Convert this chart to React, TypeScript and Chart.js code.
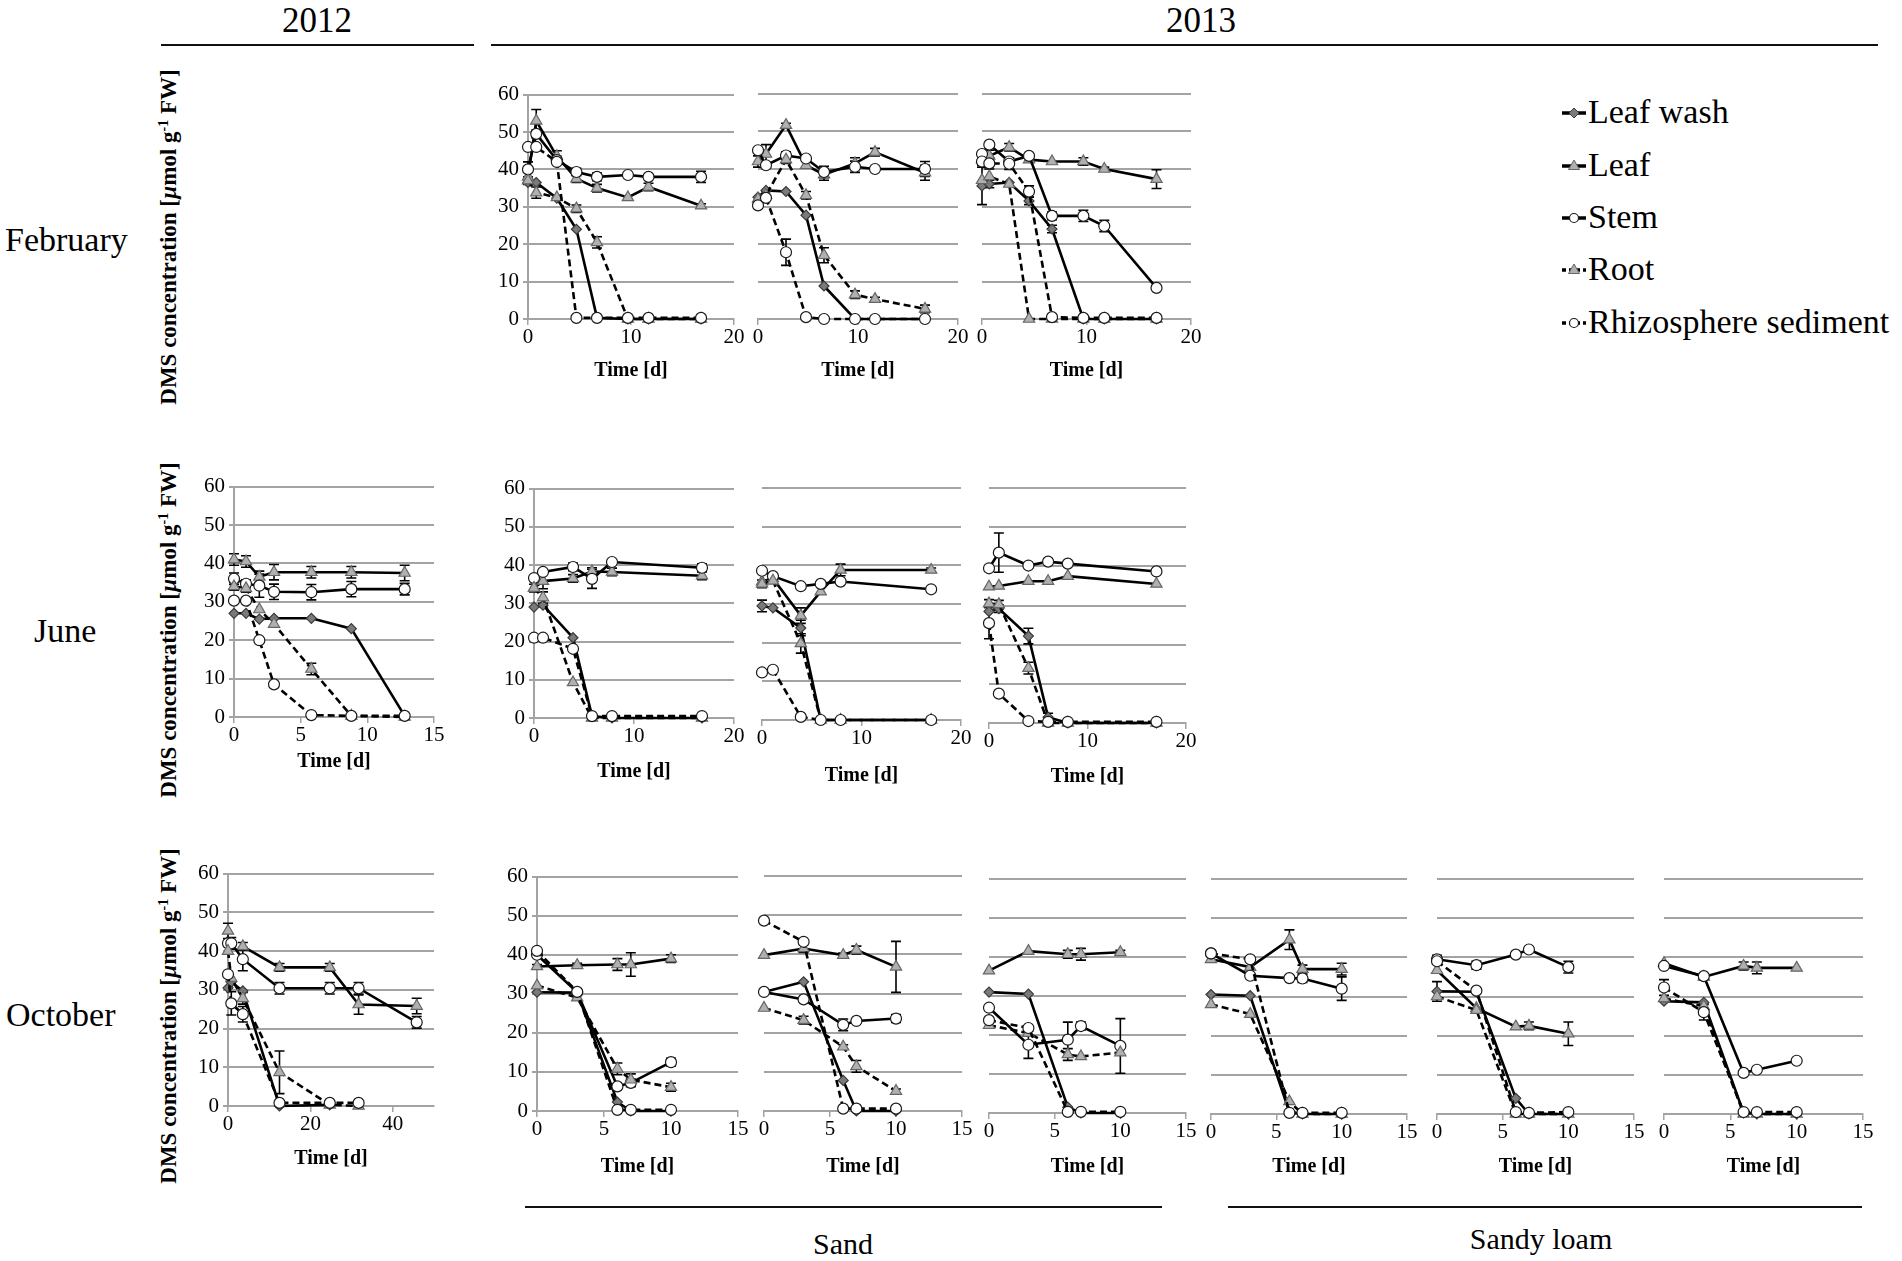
import { useEffect, useRef } from "react"
import { Chart, registerables } from "chart.js"

Chart.register(...registerables)

const SERIF = "'Liberation Serif', 'Times New Roman', serif"
const GRID = "#a3a3a3"

// series order in every panel: leaf wash, leaf, stem, root, rhizosphere sediment
const seriesNames = ["Leaf wash", "Leaf", "Stem", "Root", "Rhizosphere sediment"]

// ---- February 2013 ----
const feb13aDays = [0, 0.8, 2.8, 4.7, 6.7, 9.7, 11.7, 16.8]
const feb13aLeafWash = [36.5, 36.5, 32.3, 24, 0.3, 0, 0, 0]
const feb13aLeaf = [38, 53, 43.5, 37.5, 35, 32.5, 35.3, 30.3]
const feb13aStem = [40, 49.5, 42.5, 39.3, 38, 38.5, 38, 38]
const feb13aRoot = [37, 33.8, 32.5, 29.5, 20.5, 0, 0, 0]
const feb13aRhizo = [46, 46, 42, 0.3, 0.3, 0.3, 0.3, 0.3]
const feb13aLeafErr = [1.5, 3, 1.5, 1, 1, 0, 1, 0.5]
const feb13aStemErr = [2, 1, 1, 1, 1, 0, 0, 1.5]
const feb13aRootErr = [1, 1.5, 0, 1, 1.5, 0, 0, 0]

const feb13bDays = [0, 0.8, 2.8, 4.8, 6.6, 9.7, 11.7, 16.7]
const feb13bLeafWash = [32.5, 34.3, 34, 27.7, 8.8, 0, 0, 0]
const feb13bLeaf = [42, 44, 51.7, 41, 38.5, 41.5, 44.5, 39]
const feb13bStem = [45, 41, 43.6, 42.8, 39.2, 40.6, 40, 40]
const feb13bRoot = [32, 33, 42.5, 33, 17, 6.5, 5.3, 2.7]
const feb13bRhizo = [30.3, 32.3, 17.8, 0.5, 0, 0, 0, 0]
const feb13bLeafErr = [1.5, 2.5, 0.5, 0, 1.5, 1.5, 1, 2]
const feb13bStemErr = [0, 0, 1, 0, 1.5, 1.5, 0, 2]
const feb13bRootErr = [0, 1, 1, 1, 2, 1, 0.5, 1]
const feb13bRhizoErr = [0, 0, 3.5, 0, 0, 0, 0, 0]

const feb13cDays = [0, 0.7, 2.6, 4.5, 6.7, 9.7, 11.7, 16.7]
const feb13cLeafWash = [35.5, 36, 36.4, 31.5, 24, 0, 0, 0]
const feb13cLeaf = [42.5, 43.5, 45.8, 42.5, 42, 42, 40, 37.3]
const feb13cStem = [44, 46.5, 42, 43.5, 27.5, 27.5, 24.8, 8.3]
const feb13cRoot = [37, 38, 36, 0, 0, 0, 0, 0]
const feb13cRhizo = [42, 41.5, 41.4, 34, 0.5, 0.3, 0.3, 0.3]
const feb13cLeafWashErr = [5, 1, 0, 1, 1, 0, 0, 0]
const feb13cLeafErr = [1.5, 1.5, 1, 0, 0, 1, 0.5, 2.5]
const feb13cStemErr = [0, 0, 1, 0, 1, 1.5, 1.5, 0.5]
const feb13cRhizoErr = [0, 1.5, 1.5, 1.5, 0, 0, 0, 0]

// ---- June 2012 / 2013 ----
const jun12Days = [0, 0.9, 1.9, 3, 5.8, 8.8, 12.8]
const jun12LeafWash = [27, 27, 25.5, 25.7, 25.7, 23, 0.3]
const jun12Leaf = [41, 40.5, 36.5, 37.7, 37.7, 37.7, 37.5]
const jun12Stem = [36, 34.7, 34.2, 32.6, 32.5, 33.3, 33.3]
const jun12Root = [34, 33.5, 28, 24.2, 12.5, 0.3, 0]
const jun12Rhizo = [30.3, 30.3, 20, 8.5, 0.5, 0.3, 0.3]
const jun12LeafErr = [1.5, 1.5, 1.5, 2, 1.5, 1.5, 2]
const jun12StemErr = [1.5, 1, 3, 2, 2, 2, 1.5]
const jun12RootErr = [1, 1, 0, 0, 1.5, 0, 0]

const jun13aDays = [0, 0.9, 3.9, 5.8, 7.8, 16.8]
const jun13aLeafWash = [29, 29.5, 21, 0.5, 0, 0]
const jun13aLeaf = [34, 35.8, 36.5, 38.3, 38.2, 37.2]
const jun13aStem = [36.6, 38.2, 39.5, 36.4, 40.8, 39.3]
const jun13aRoot = [34, 31.5, 9.3, 0, 0, 0]
const jun13aRhizo = [21, 21, 18.1, 0.5, 0.5, 0.5]
const jun13aLeafErr = [1, 2, 1, 1, 1, 1]
const jun13aStemErr = [0, 0, 1, 2.5, 0, 1]
const jun13aRootErr = [0, 1.5, 0, 0, 0, 0]

const jun13bDays = [0, 1.1, 3.9, 5.9, 7.9, 17]
const jun13bLeafWash = [29.5, 29, 23.8, 0, 0, 0]
const jun13bLeaf = [35.8, 36.6, 27, 33.2, 38.8, 38.8]
const jun13bStem = [38.6, 37.2, 34.6, 35.2, 35.8, 33.8]
const jun13bRoot = [35.2, 36, 19.8, 0, 0, 0]
const jun13bRhizo = [12.3, 13, 0.8, 0, 0, 0]
const jun13bLeafWashErr = [1.5, 0, 2, 0, 0, 0]
const jun13bLeafErr = [0, 0, 2, 0, 1.5, 0.5]
const jun13bRootErr = [1, 0, 2.5, 0, 0, 0]

const jun13cDays = [0, 1, 4, 6, 8, 17]
const jun13cLeafWash = [28.5, 29.2, 22.2, 1.5, 0, 0]
const jun13cLeaf = [34.8, 35, 36.2, 36.2, 37.5, 35.5]
const jun13cStem = [39.5, 43.5, 40.2, 41.2, 40.7, 38.7]
const jun13cRoot = [30.5, 30.3, 14, 0, 0, 0]
const jun13cRhizo = [25.5, 7.5, 0.5, 0.3, 0.3, 0.3]
const jun13cLeafWashErr = [0, 1, 2, 1, 0, 0]
const jun13cStemErr = [0, 5, 0, 0, 0, 0]
const jun13cRootErr = [1, 1, 1.5, 0, 0, 0]
const jun13cRhizoErr = [4, 0, 0, 0, 0, 0]

// ---- October 2012 / 2013 ----
const oct12Days = [0, 0.8, 3.6, 12.5, 24.7, 31.7, 45.8]
const oct12LeafWash = [30.5, 32, 29.7, 0, 0.3, null, null]
const oct12Leaf = [45.2, null, 41.2, 35.8, 35.8, 26.2, 25.8]
const oct12Stem = [42, 42, 37.9, 30.4, 30.4, 30.4, 21.6]
const oct12Root = [40, 33, 27.8, 8.7, 0.3, 0, null]
const oct12Rhizo = [34, 26.5, 23.7, 0.8, 0.8, 0.8, null]
const oct12LeafErr = [2, 0, 1, 1, 1, 2.5, 2]
const oct12StemErr = [0, 1.5, 3, 1.5, 1.5, 1.5, 1.5]
const oct12RootErr = [0, 0, 1.5, 5.5, 0, 0, 0]
const oct12RhizoErr = [0, 3, 2, 0, 0, 0, 0]

const oct13Days = [0, 3, 6, 7, 10]

const oct13aLeafWash = [30.4, 30.3, 2.3, 0, 0]
const oct13aLeaf = [37, 37.3, 37.5, 37.5, 39]
const oct13aStem = [40, 30.4, 6.3, 7.2, 12.5]
const oct13aRoot = [32.1, 29, 10.8, 8, 6.1]
const oct13aRhizo = [41, 30.5, 0.3, 0.3, 0.3]
const oct13aLeafErr = [0.5, 0.5, 1.5, 3, 1]
const oct13aStemErr = [0, 0, 0, 1, 1]
const oct13aRootErr = [0, 0, 1.5, 1.5, 1]

const oct13bLeafWash = [30.4, 33, 7.8, 0, 0]
const oct13bLeaf = [39.8, 41.5, 39.8, 41.1, 36.8]
const oct13bStem = [30.4, 28.5, 22, 23, 23.6]
const oct13bRoot = [26.3, 23.2, 16.4, 11.4, 5.1]
const oct13bRhizo = [48.6, 43.2, 0.6, 0.6, 0.6]
const oct13bLeafErr = [0, 1, 0.5, 1, 6.5]
const oct13bStemErr = [0, 0, 1.5, 0.5, 1]
const oct13bRootErr = [0, 1, 0.5, 1.5, 0.5]

const oct13cLeafWash = [31, 30.5, 1.5, 0, 0]
const oct13cLeaf = [36.5, 41.5, 40.7, 40.7, 41.2]
const oct13cStem = [27, 17.5, 18.8, 22.3, 17.2]
const oct13cRoot = [22.5, 20.5, 15, 14.5, 15.5]
const oct13cRhizo = [23.8, 21.8, 0.3, 0.3, 0.3]
const oct13cLeafErr = [0, 0, 1, 1.5, 0.5]
const oct13cStemErr = [0, 3.5, 4.5, 1, 7]
const oct13cRootErr = [0, 0, 1.5, 0, 0]

const oct13dLeafWash = [30.5, 30.2, 0.5, 0, 0]
const oct13dLeaf = [39.5, 37.5, 44.5, 37, 37]
const oct13dStem = [41, 35.3, 34.7, 34.6, 32]
const oct13dRoot = [28, 25.5, 3.2, 0, 0]
const oct13dRhizo = [41, 39.5, 0.3, 0.3, 0.3]
const oct13dLeafErr = [0, 0, 2.5, 1, 1.5]
const oct13dStemErr = [0, 0, 0, 1, 3]

const oct13eLeafWash = [31.3, 31.2, 4, 0, 0]
const oct13eLeaf = [36.7, 27, 22.3, 22.5, 20.5]
const oct13eStem = [39.5, 38, 40.7, 42, 37.5]
const oct13eRoot = [30, 26.5, 0, 0, 0]
const oct13eRhizo = [39, 31.5, 0.5, 0.3, 0.5]
const oct13eLeafWashErr = [2.5, 0, 0, 0, 0]
const oct13eLeafErr = [0, 0, 0, 1, 3]
const oct13eStemErr = [1, 1, 0, 0, 1.5]

const oct13fLeafWash = [28.8, 28.5, 0.3, 0, 0]
const oct13fLeaf = [38.5, 35, 37.8, 37.3, 37.3]
const oct13fStem = [37.8, 35.2, 10.5, 11.3, 13.6]
const oct13fRoot = [29.5, 27.5, 0, 0, 0]
const oct13fRhizo = [32.3, 26, 0.5, 0.5, 0.5]
const oct13fLeafErr = [0, 0, 1, 1.5, 0]
const oct13fRhizoErr = [2, 2, 0, 0, 0]

type Vals = (number | null)[]
type PanelSpec = {
  id: string
  rect: [number, number, number, number] // plot area: left, top, right, bottom
  xMax: number
  xStep: number
  yLabels: boolean
  titleY: number
  days: number[]
  values: Vals[]
  errors: (number[] | null)[]
}

const panels: PanelSpec[] = [
  { id: "feb13a", rect: [528, 94, 734, 319], xMax: 20, xStep: 10, yLabels: true, titleY: 371, days: feb13aDays,
    values: [feb13aLeafWash, feb13aLeaf, feb13aStem, feb13aRoot, feb13aRhizo],
    errors: [null, feb13aLeafErr, feb13aStemErr, feb13aRootErr, null] },
  { id: "feb13b", rect: [758, 94, 958, 319], xMax: 20, xStep: 10, yLabels: false, titleY: 371, days: feb13bDays,
    values: [feb13bLeafWash, feb13bLeaf, feb13bStem, feb13bRoot, feb13bRhizo],
    errors: [null, feb13bLeafErr, feb13bStemErr, feb13bRootErr, feb13bRhizoErr] },
  { id: "feb13c", rect: [982, 94, 1191, 319], xMax: 20, xStep: 10, yLabels: false, titleY: 371, days: feb13cDays,
    values: [feb13cLeafWash, feb13cLeaf, feb13cStem, feb13cRoot, feb13cRhizo],
    errors: [feb13cLeafWashErr, feb13cLeafErr, feb13cStemErr, null, feb13cRhizoErr] },

  { id: "jun12", rect: [234, 486, 434, 717], xMax: 15, xStep: 5, yLabels: true, titleY: 762, days: jun12Days,
    values: [jun12LeafWash, jun12Leaf, jun12Stem, jun12Root, jun12Rhizo],
    errors: [null, jun12LeafErr, jun12StemErr, jun12RootErr, null] },
  { id: "jun13a", rect: [534, 488, 734, 718], xMax: 20, xStep: 10, yLabels: true, titleY: 772, days: jun13aDays,
    values: [jun13aLeafWash, jun13aLeaf, jun13aStem, jun13aRoot, jun13aRhizo],
    errors: [null, jun13aLeafErr, jun13aStemErr, jun13aRootErr, null] },
  { id: "jun13b", rect: [762, 488, 961, 720], xMax: 20, xStep: 10, yLabels: false, titleY: 776, days: jun13bDays,
    values: [jun13bLeafWash, jun13bLeaf, jun13bStem, jun13bRoot, jun13bRhizo],
    errors: [jun13bLeafWashErr, jun13bLeafErr, null, jun13bRootErr, null] },
  { id: "jun13c", rect: [989, 488, 1186, 723], xMax: 20, xStep: 10, yLabels: false, titleY: 777, days: jun13cDays,
    values: [jun13cLeafWash, jun13cLeaf, jun13cStem, jun13cRoot, jun13cRhizo],
    errors: [jun13cLeafWashErr, null, jun13cStemErr, jun13cRootErr, jun13cRhizoErr] },

  { id: "oct12", rect: [228, 873, 434, 1106], xMax: 50, xStep: 20, yLabels: true, titleY: 1159, days: oct12Days,
    values: [oct12LeafWash, oct12Leaf, oct12Stem, oct12Root, oct12Rhizo],
    errors: [null, oct12LeafErr, oct12StemErr, oct12RootErr, oct12RhizoErr] },
  { id: "oct13a", rect: [537, 876, 738, 1111], xMax: 15, xStep: 5, yLabels: true, titleY: 1167, days: oct13Days,
    values: [oct13aLeafWash, oct13aLeaf, oct13aStem, oct13aRoot, oct13aRhizo],
    errors: [null, oct13aLeafErr, oct13aStemErr, oct13aRootErr, null] },
  { id: "oct13b", rect: [764, 876, 962, 1111], xMax: 15, xStep: 5, yLabels: false, titleY: 1167, days: oct13Days,
    values: [oct13bLeafWash, oct13bLeaf, oct13bStem, oct13bRoot, oct13bRhizo],
    errors: [null, oct13bLeafErr, oct13bStemErr, oct13bRootErr, null] },
  { id: "oct13c", rect: [989, 879, 1186, 1113], xMax: 15, xStep: 5, yLabels: false, titleY: 1167, days: oct13Days,
    values: [oct13cLeafWash, oct13cLeaf, oct13cStem, oct13cRoot, oct13cRhizo],
    errors: [null, oct13cLeafErr, oct13cStemErr, oct13cRootErr, null] },
  { id: "oct13d", rect: [1211, 879, 1407, 1114], xMax: 15, xStep: 5, yLabels: false, titleY: 1167, days: oct13Days,
    values: [oct13dLeafWash, oct13dLeaf, oct13dStem, oct13dRoot, oct13dRhizo],
    errors: [null, oct13dLeafErr, oct13dStemErr, null, null] },
  { id: "oct13e", rect: [1437, 879, 1634, 1114], xMax: 15, xStep: 5, yLabels: false, titleY: 1167, days: oct13Days,
    values: [oct13eLeafWash, oct13eLeaf, oct13eStem, oct13eRoot, oct13eRhizo],
    errors: [oct13eLeafWashErr, oct13eLeafErr, oct13eStemErr, null, null] },
  { id: "oct13f", rect: [1664, 879, 1863, 1114], xMax: 15, xStep: 5, yLabels: false, titleY: 1167, days: oct13Days,
    values: [oct13fLeafWash, oct13fLeaf, oct13fStem, oct13fRoot, oct13fRhizo],
    errors: [null, oct13fLeafErr, null, null, oct13fRhizoErr] },
]

const seriesStyles = [
  { point: "rectRot", radius: 5, fill: "#7a7a7a", edge: "#3a3a3a", dash: [] as number[] },
  { point: "triangle", radius: 6.5, fill: "#b0b0b0", edge: "#666666", dash: [] as number[] },
  { point: "circle", radius: 5.5, fill: "#ffffff", edge: "#1a1a1a", dash: [] as number[] },
  { point: "triangle", radius: 6.5, fill: "#b0b0b0", edge: "#666666", dash: [7, 4] },
  { point: "circle", radius: 5.5, fill: "#ffffff", edge: "#1a1a1a", dash: [7, 4] },
]

// draws the +/- error bars under the lines and markers
const errorBarPlugin = {
  id: "errorBars",
  beforeDatasetsDraw(chart: any) {
    const { ctx, scales } = chart
    ctx.save()
    ctx.strokeStyle = "#000"
    ctx.lineWidth = 1.6
    chart.data.datasets.forEach((ds: any) => {
      const errs = ds.errorBars
      if (!errs) return
      ds.data.forEach((p: any, j: number) => {
        const e = errs[j]
        if (!e || p.y == null) return
        const px = scales.x.getPixelForValue(p.x)
        const top = scales.y.getPixelForValue(p.y + e)
        const bot = scales.y.getPixelForValue(p.y - e)
        ctx.beginPath()
        ctx.moveTo(px, top)
        ctx.lineTo(px, bot)
        ctx.moveTo(px - 5, top)
        ctx.lineTo(px + 5, top)
        ctx.moveTo(px - 5, bot)
        ctx.lineTo(px + 5, bot)
        ctx.stroke()
      })
    })
    ctx.restore()
  },
}

function Panel({ spec }: { spec: PanelSpec }) {
  const chartRef = useRef<HTMLCanvasElement>(null)
  const [l, t, r, b] = spec.rect
  const yAxisW = spec.yLabels ? 48 : 14
  const padTop = 16
  const padRight = 18
  const xAxisH = Math.round(spec.titleY + 12 - b)
  const width = yAxisW + (r - l) + padRight
  const height = padTop + (b - t) + xAxisH

  useEffect(() => {
    if (!chartRef.current) return

    const datasets = spec.values.map((vals, i) => {
      const st = seriesStyles[i]
      return {
        label: seriesNames[i],
        data: spec.days.map((d, j) => ({ x: d, y: vals[j] })),
        borderColor: "#000",
        borderWidth: 2.6,
        borderDash: st.dash,
        pointStyle: st.point,
        pointRadius: st.radius,
        pointBackgroundColor: st.fill,
        pointBorderColor: st.edge,
        pointBorderWidth: 1.2,
        tension: 0,
        clip: false,
        order: 4 - i,
        errorBars: spec.errors[i],
      }
    })

    const tickFont = { family: SERIF, size: 21 }

    const chart = new Chart(chartRef.current, {
      type: "line",
      data: { datasets } as any,
      options: {
        responsive: false,
        animation: false,
        events: [],
        layout: { padding: { top: padTop, right: padRight, left: 0, bottom: 0 } },
        scales: {
          x: {
            type: "linear",
            min: 0,
            max: spec.xMax,
            ticks: { stepSize: spec.xStep, color: "#000", font: tickFont, padding: 0, maxRotation: 0 },
            afterBuildTicks: (s: any) => {
              s.ticks = s.ticks.filter((tk: any) => Math.abs(tk.value % spec.xStep) < 1e-6)
            },
            grid: { display: true, drawOnChartArea: false, drawTicks: true, tickLength: 6, color: GRID, lineWidth: 1.5 },
            border: { display: true, color: GRID, width: 2 },
            title: {
              display: true,
              text: "Time [d]",
              color: "#000",
              font: { family: SERIF, size: 20, weight: "bold" },
              padding: 0,
            },
            afterFit: (s: any) => {
              s.height = xAxisH
            },
          },
          y: {
            min: 0,
            max: 60,
            ticks: { stepSize: 10, display: spec.yLabels, color: "#000", font: tickFont, padding: 4 },
            grid: { color: GRID, lineWidth: 2, drawTicks: spec.yLabels, tickLength: 5 },
            border: { display: spec.yLabels, color: GRID, width: 2 },
            afterFit: (s: any) => {
              s.width = yAxisW
            },
          },
        },
        plugins: {
          legend: { display: false },
          tooltip: { enabled: false },
        },
      } as any,
      plugins: [errorBarPlugin],
    })

    return () => {
      chart.destroy()
    }
  }, [spec])

  return (
    <div style={{ position: "absolute", left: l - yAxisW, top: t - padTop, width, height }}>
      <canvas ref={chartRef} width={width} height={height} style={{ width, height }} />
    </div>
  )
}

// text positioned by its baseline
function Label(props: { x: number; base: number; size: number; center?: boolean; children: any }) {
  const { x, base, size, center, children } = props
  return (
    <div
      style={{
        position: "absolute",
        left: center ? x - 400 : x,
        width: center ? 800 : undefined,
        textAlign: center ? "center" : "left",
        top: base - 0.8375 * size,
        fontSize: size,
        lineHeight: `${size}px`,
        whiteSpace: "nowrap",
      }}
    >
      {children}
    </div>
  )
}

function YTitle({ cy }: { cy: number }) {
  return (
    <div
      style={{
        position: "absolute",
        left: 166,
        top: cy,
        transform: "translate(-50%, -50%) rotate(-90deg)",
        whiteSpace: "nowrap",
        fontWeight: "bold",
        fontSize: 23,
        lineHeight: "24px",
      }}
    >
      DMS concentration [<i>µ</i>mol g<sup style={{ fontSize: 14, verticalAlign: 8 }}>-1</sup> FW]
    </div>
  )
}

function LegendMark({ i }: { i: number }) {
  const st = seriesStyles[i]
  let mark
  if (st.point === "rectRot") mark = <polygon points="13,5 18,10 13,15 8,10" fill={st.fill} stroke={st.edge} strokeWidth={1} />
  else if (st.point === "triangle") mark = <polygon points="13,4 18.5,13.5 7.5,13.5" fill={st.fill} stroke={st.edge} strokeWidth={1} />
  else mark = <circle cx={13} cy={10} r={4.5} fill="#fff" stroke="#1a1a1a" strokeWidth={1.2} />
  return (
    <svg width={26} height={20} style={{ position: "absolute", left: 0, top: 0 }}>
      <line x1={1} y1={10} x2={25} y2={10} stroke="#000" strokeWidth={3.5} strokeDasharray={st.dash.length ? "4 3" : undefined} />
      {mark}
    </svg>
  )
}

const legendBaselines = [123, 176, 228, 280, 333]

export default function App() {
  return (
    <div
      style={{
        position: "absolute",
        left: 0,
        top: 0,
        width: 1902,
        height: 1261,
        background: "#fff",
        fontFamily: SERIF,
        color: "#000",
        overflow: "hidden",
      }}
    >
      <Label x={317} base={32} size={35} center>2012</Label>
      <Label x={1201} base={32} size={35} center>2013</Label>
      <div style={{ position: "absolute", left: 161, top: 44, width: 313, borderTop: "2px solid #111" }} />
      <div style={{ position: "absolute", left: 491, top: 44, width: 1387, borderTop: "2px solid #111" }} />

      <Label x={5} base={251} size={34}>February</Label>
      <Label x={34} base={642} size={34}>June</Label>
      <Label x={6} base={1026} size={34}>October</Label>

      <YTitle cy={237} />
      <YTitle cy={630} />
      <YTitle cy={1016} />

      {panels.map((p) => (
        <Panel key={p.id} spec={p} />
      ))}

      {seriesNames.map((name, i) => (
        <div key={name}>
          <div style={{ position: "absolute", left: 1561, top: legendBaselines[i] - 20, width: 26, height: 20 }}>
            <LegendMark i={i} />
          </div>
          <Label x={1588} base={legendBaselines[i]} size={34}>{name}</Label>
        </div>
      ))}

      <div style={{ position: "absolute", left: 525, top: 1206, width: 637, borderTop: "2px solid #111" }} />
      <div style={{ position: "absolute", left: 1228, top: 1206, width: 634, borderTop: "2px solid #111" }} />
      <Label x={843} base={1254} size={30} center>Sand</Label>
      <Label x={1541} base={1249} size={30} center>Sandy loam</Label>
    </div>
  )
}
